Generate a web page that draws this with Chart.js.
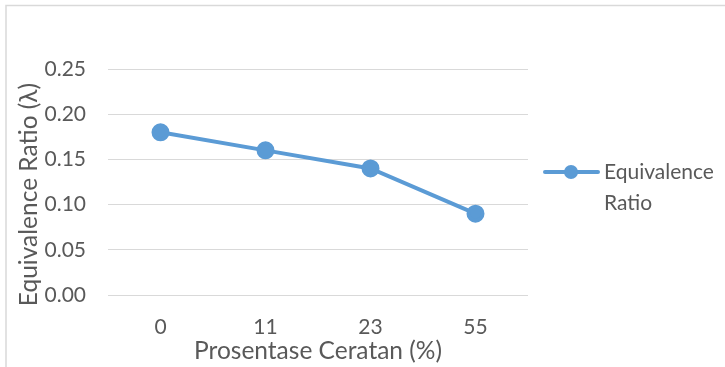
<!DOCTYPE html>
<html>
<head>
<meta charset="utf-8">
<script src="https://cdn.jsdelivr.net/npm/chart.js@4/dist/chart.umd.min.js"></script>
<style>
  html, body { margin: 0; padding: 0; background: #ffffff; overflow: hidden; }
  #wrap { position: relative; width: 725px; height: 367px; }
</style>
</head>
<body>
<div id="wrap"><canvas id="c" width="725" height="367"></canvas></div>
<script>
// Dilution percentage categories and the equivalence ratio measured at each
const categories = ['0', '11', '23', '55'];
const equivalenceRatio = [0.18, 0.16, 0.14, 0.09];
const seriesName = 'Equivalence Ratio';
const yTicks = [0, 0.05, 0.10, 0.15, 0.20, 0.25];

const FONT = "Lato, 'Noto Sans', sans-serif";
const TEXT = '#595959';
const BLUE = '#5B9BD5';

// Outer frame of the chart object
const framePlugin = {
  id: 'frame',
  beforeDraw(chart) {
    const ctx = chart.ctx;
    ctx.save();
    ctx.strokeStyle = '#d9d9d9';
    ctx.lineWidth = 1.5;
    ctx.strokeRect(6, 5.5, 760, 400);
    ctx.restore();
  }
};

// Right-hand legend: line with marker and a two-line wrapped label
const sideLegend = {
  id: 'sideLegend',
  afterDraw(chart) {
    const ctx = chart.ctx;
    const ds = chart.data.datasets[0];
    const y = 172;
    ctx.save();
    ctx.strokeStyle = ds.borderColor;
    ctx.lineWidth = ds.borderWidth;
    ctx.lineCap = 'round';
    ctx.beginPath();
    ctx.moveTo(545, y);
    ctx.lineTo(598, y);
    ctx.stroke();
    ctx.fillStyle = ds.pointBackgroundColor;
    ctx.beginPath();
    ctx.arc(571, y, ds.pointRadius, 0, Math.PI * 2);
    ctx.fill();
    ctx.fillStyle = TEXT;
    ctx.font = "21px " + FONT;
    ctx.textBaseline = 'middle';
    ctx.textAlign = 'left';
    const words = ds.label.split(' ');
    ctx.fillText(words[0], 604, y);
    ctx.fillText(words.slice(1).join(' '), 604, y + 31);
    ctx.restore();
  }
};

new Chart(document.getElementById('c'), {
  type: 'line',
  data: {
    labels: categories,
    datasets: [{
      label: seriesName,
      data: equivalenceRatio,
      borderColor: BLUE,
      backgroundColor: BLUE,
      pointBackgroundColor: BLUE,
      pointBorderColor: BLUE,
      borderWidth: 4,
      pointRadius: 7,
      pointHoverRadius: 7,
      tension: 0
    }]
  },
  options: {
    responsive: false,
    animation: false,
    events: [],
    layout: { padding: { left: 0, top: 69, right: 197, bottom: 0 } },
    plugins: { legend: { display: false }, tooltip: { enabled: false } },
    scales: {
      x: {
        offset: true,
        grid: { display: false, drawTicks: false },
        border: { display: false },
        ticks: { color: TEXT, font: { family: FONT, size: 21 }, padding: 20 },
        title: {
          display: true,
          text: 'Prosentase Ceratan (%)',
          color: TEXT,
          font: { family: FONT, size: 24.5 },
          padding: { top: 0, bottom: 1 }
        },
        afterFit(scale) { scale.height = 72; }
      },
      y: {
        min: 0,
        max: 0.25,
        afterBuildTicks(scale) { scale.ticks = yTicks.map(v => ({ value: v })); },
        grid: { color: '#d9d9d9', lineWidth: 1, drawTicks: false },
        border: { display: false },
        ticks: {
          color: TEXT,
          font: { family: FONT, size: 21 },
          padding: 22,
          callback: v => v.toFixed(2)
        },
        title: {
          display: true,
          // trailing spaces nudge the rotated title slightly downward
          text: 'Equivalence Ratio (λ)    ',
          color: TEXT,
          font: { family: FONT, size: 24.5 },
          padding: { top: 14, bottom: 0 }
        },
        afterFit(scale) { scale.width = 108; }
      }
    }
  },
  plugins: [framePlugin, sideLegend]
});
</script>
</body>
</html>
